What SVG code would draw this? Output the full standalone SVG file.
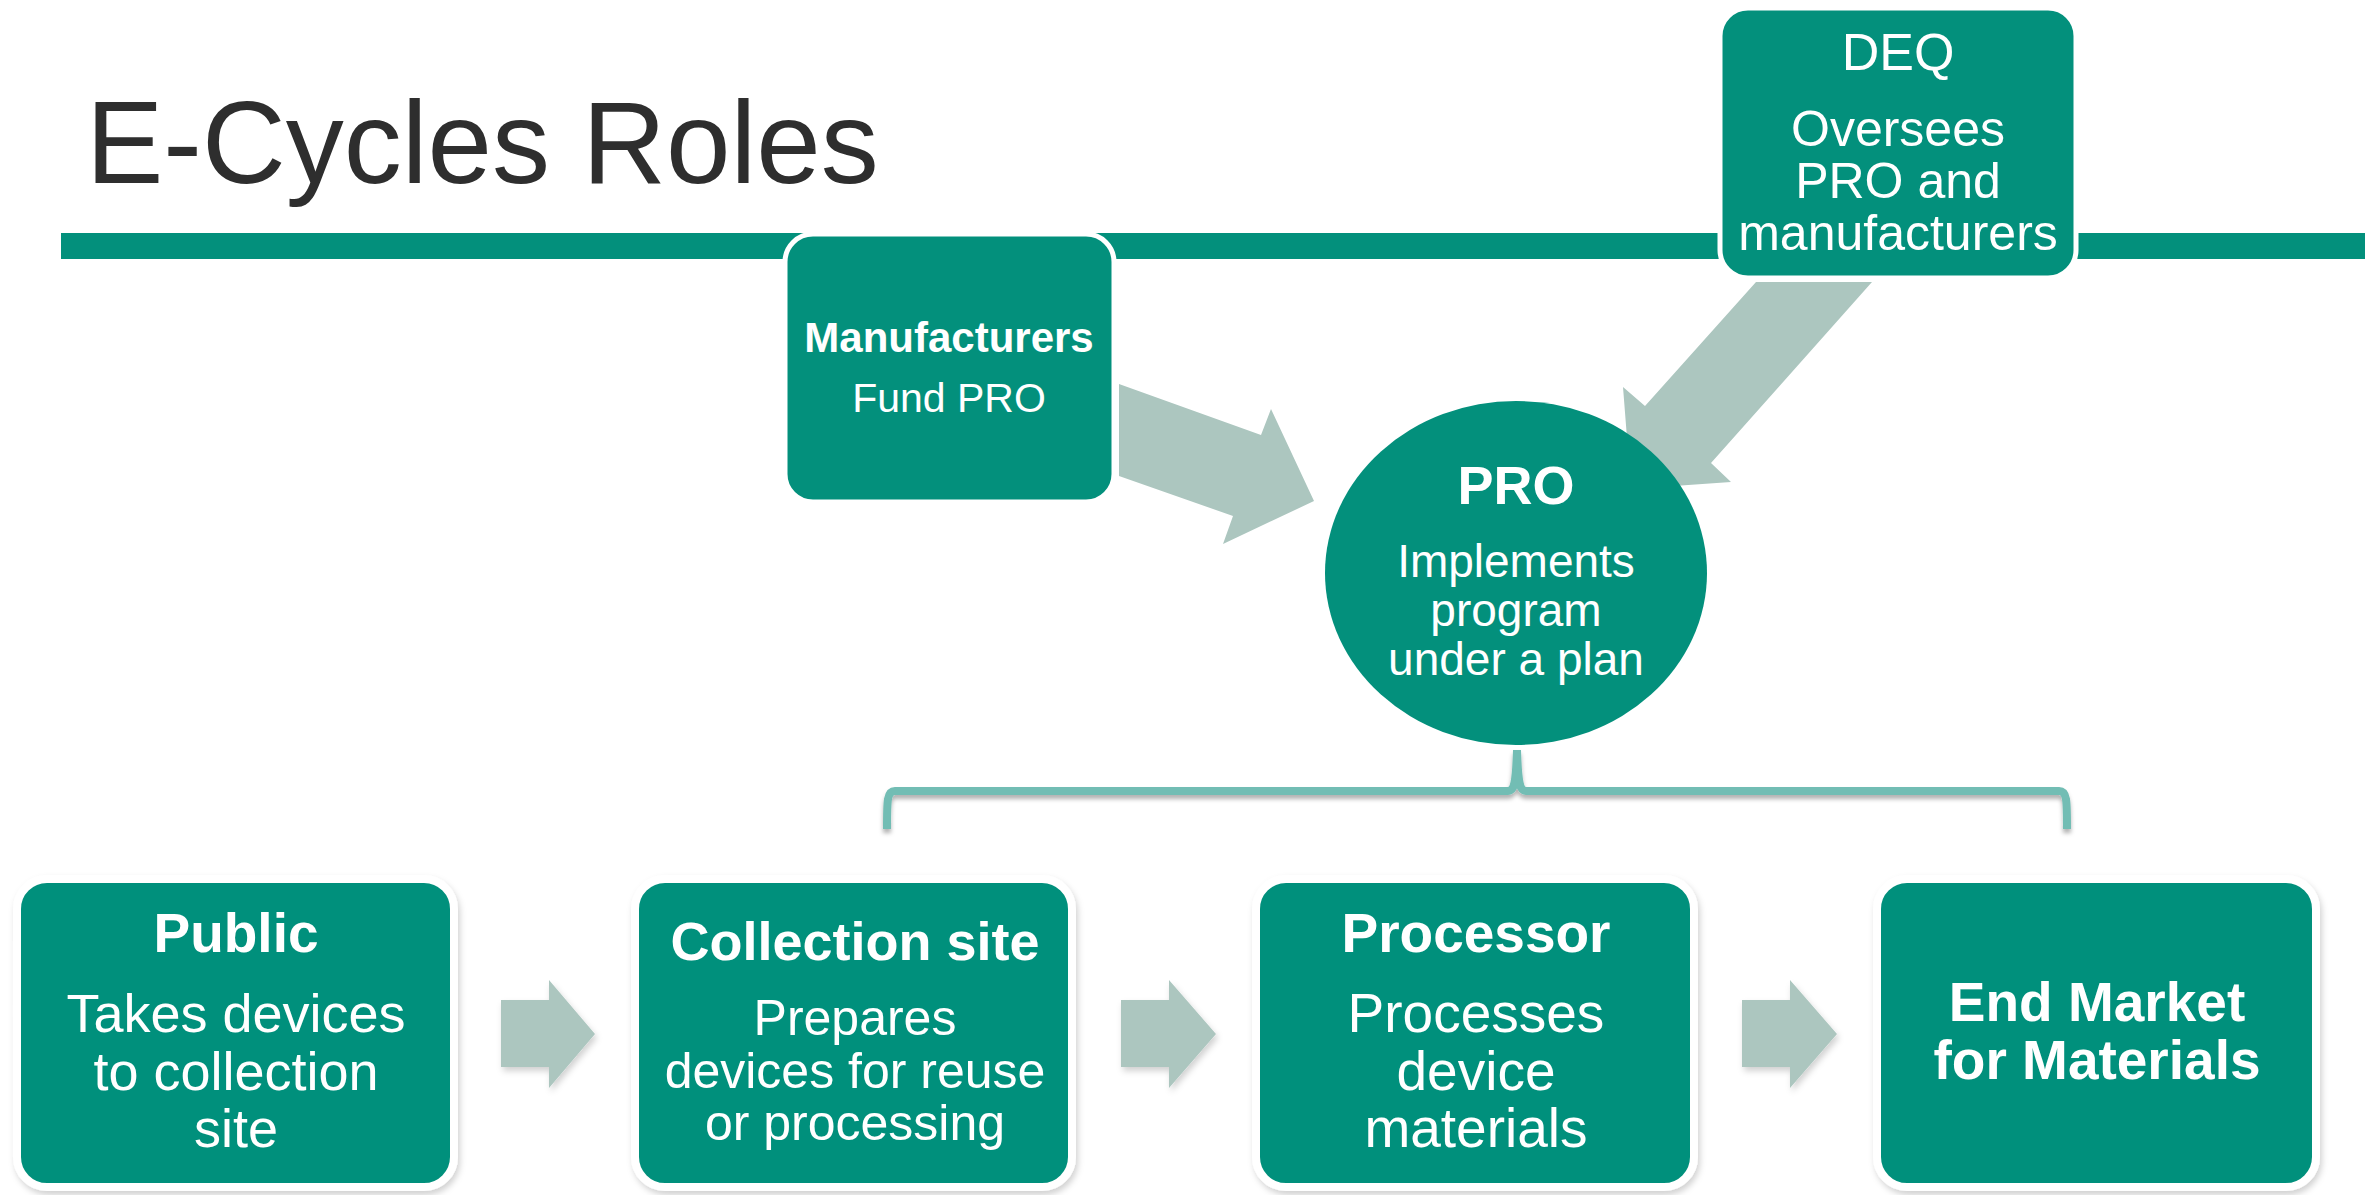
<svg xmlns="http://www.w3.org/2000/svg" width="2376" height="1195" viewBox="0 0 2376 1195">
<style>
.box{fill:#03907C;stroke:#ffffff;stroke-width:5}
.bbox{fill:#03907C;stroke:#ffffff;stroke-width:8}
.t{font-family:"Liberation Sans",Arial,sans-serif;fill:#ffffff;text-anchor:middle}
.b{font-weight:bold}
.arr{fill:#ACC6BF}
</style>
<defs>
<filter id="sh" x="-10%" y="-10%" width="130%" height="130%">
<feDropShadow dx="2" dy="4" stdDeviation="3" flood-color="#000000" flood-opacity="0.18"/>
</filter>
<filter id="sh2" x="-5%" y="-50%" width="110%" height="200%">
<feDropShadow dx="0" dy="4" stdDeviation="2" flood-color="#000000" flood-opacity="0.3"/>
</filter>
</defs>
<rect width="2376" height="1195" fill="#ffffff"/>
<g id="title">
<text x="86" y="183" font-family="Liberation Sans, Arial, sans-serif" font-size="116" fill="#2E2E2E">E-Cycles Roles</text>
<rect x="61" y="233" width="2304" height="26" fill="#03907C"/>
</g>
<g id="connectors">
<polygon class="arr" points="1119,384 1261,435 1271,409 1314,501 1223,544 1233,516 1119,476"/>
<polygon class="arr" points="1756,282 1872,282 1711,463 1731,482 1631,489 1623,387 1645,406"/>
<path d="M887,829 C887,800 887,791 895,791 L1508,791 C1514,791 1516,785 1517,750 C1518,785 1520,791 1526,791 L2059,791 C2067,791 2067,800 2067,829" fill="none" stroke="#72BDB4" stroke-width="8" filter="url(#sh2)"/>
<g filter="url(#sh)">
<polygon class="arr" points="501,1000 549,1000 549,980 595,1034 549,1088 549,1067 501,1067"/>
<polygon class="arr" points="1121,1000 1169,1000 1169,980 1216,1034 1169,1088 1169,1067 1121,1067"/>
<polygon class="arr" points="1742,1000 1790,1000 1790,980 1837,1034 1790,1088 1790,1067 1742,1067"/>
</g>
</g>
<g id="manufacturers">
<rect class="box" x="785" y="234" width="329" height="268" rx="28"/>
<text class="t b" x="949" y="352" font-size="42">Manufacturers</text>
<text class="t" x="949" y="412" font-size="41">Fund PRO</text>
</g>
<g id="deq">
<rect class="box" x="1720" y="8" width="356" height="270" rx="28"/>
<text class="t" x="1898" y="70" font-size="52">DEQ</text>
<text class="t" x="1898" y="146" font-size="50">Oversees</text>
<text class="t" x="1898" y="198" font-size="50">PRO and</text>
<text class="t" x="1898" y="250" font-size="50">manufacturers</text>
</g>
<g id="pro">
<ellipse cx="1516" cy="573" rx="191" ry="172" fill="#03907C"/>
<text class="t b" x="1516" y="504" font-size="54">PRO</text>
<text class="t" x="1516" y="577" font-size="46">Implements</text>
<text class="t" x="1516" y="626" font-size="46">program</text>
<text class="t" x="1516" y="675" font-size="46">under a plan</text>
</g>
<g id="public" filter="url(#sh)">
<rect class="bbox" x="17" y="879" width="437" height="308" rx="30"/>
<text class="t b" x="236" y="952" font-size="55">Public</text>
<text class="t" x="236" y="1032" font-size="54">Takes devices</text>
<text class="t" x="236" y="1090" font-size="54">to collection</text>
<text class="t" x="236" y="1147" font-size="54">site</text>
</g>
<g id="collection-site" filter="url(#sh)">
<rect class="bbox" x="635" y="879" width="437" height="308" rx="30"/>
<text class="t b" x="855" y="960" font-size="54">Collection site</text>
<text class="t" x="855" y="1035" font-size="50">Prepares</text>
<text class="t" x="855" y="1088" font-size="50">devices for reuse</text>
<text class="t" x="855" y="1140" font-size="50">or processing</text>
</g>
<g id="processor" filter="url(#sh)">
<rect class="bbox" x="1256" y="879" width="438" height="308" rx="30"/>
<text class="t b" x="1476" y="952" font-size="55">Processor</text>
<text class="t" x="1476" y="1032" font-size="55">Processes</text>
<text class="t" x="1476" y="1090" font-size="55">device</text>
<text class="t" x="1476" y="1147" font-size="55">materials</text>
</g>
<g id="end-market" filter="url(#sh)">
<rect class="bbox" x="1877" y="879" width="439" height="308" rx="30"/>
<text class="t b" x="2097" y="1021" font-size="55">End Market</text>
<text class="t b" x="2097" y="1079" font-size="55">for Materials</text>
</g>
</svg>
